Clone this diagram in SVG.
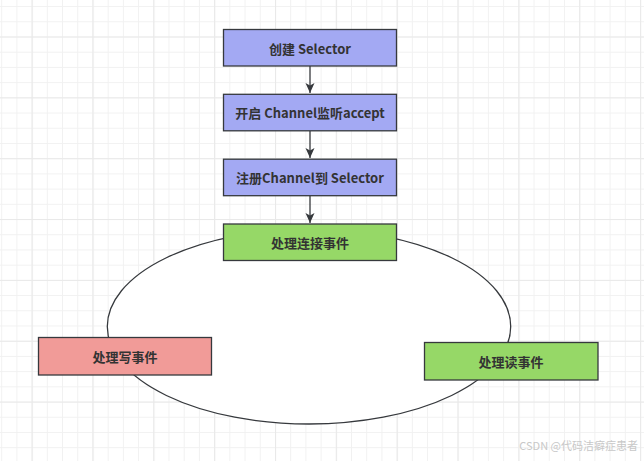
<svg xmlns="http://www.w3.org/2000/svg" width="644" height="461" viewBox="0 0 644 461">
<style>
.box{stroke:#36393d;stroke-width:1.3}
.blue{fill:#a3a9f3}
.green{fill:#96d867}
.red{fill:#f19b98}
.lbl{font-family:"Noto Sans CJK SC","Noto Sans",sans-serif;font-size:13px;font-weight:bold;fill:#333;text-anchor:middle;dominant-baseline:central}
.conn{stroke:#36393d;stroke-width:1.3;fill:none}
</style>
<defs>
<pattern id="minor" width="15.21" height="15.21" patternUnits="userSpaceOnUse" x="1.2" y="6.1">
<path d="M0.5 0V15.21M0 0.5H15.21" stroke="#f1f1f1" stroke-width="1" fill="none"/>
</pattern>
<pattern id="major" width="60.85" height="60.85" patternUnits="userSpaceOnUse" x="31.6" y="36.5">
<path d="M0.5 0V60.85M0 0.5H60.85" stroke="#e9e9e9" stroke-width="1.2" fill="none"/>
</pattern>
<marker id="arr" viewBox="0 0 10 10" refX="10" refY="5" markerWidth="11" markerHeight="10" markerUnits="userSpaceOnUse" orient="auto">
<path d="M0 0.5L10 5L0 9.5L2.5 5Z" fill="#36393d"/>
</marker>
</defs>
<rect width="644" height="461" fill="#ffffff"/>
<rect width="644" height="461" fill="url(#minor)"/>
<rect width="644" height="461" fill="url(#major)"/>
<g id="loop">
<ellipse cx="309" cy="326.6" rx="201.7" ry="97.4" fill="#ffffff" stroke="#36393d" stroke-width="1.3"/>
</g>
<g id="connectors">
<path class="conn" d="M310 66V93" marker-end="url(#arr)"/>
<path class="conn" d="M310 131V158" marker-end="url(#arr)"/>
<path class="conn" d="M310 196V223" marker-end="url(#arr)"/>
</g>
<g id="n1"><rect class="box blue" x="223.5" y="29.5" width="173" height="36.5"/><text class="lbl" x="310" y="48">创建 Selector</text></g>
<g id="n2"><rect class="box blue" x="223.5" y="94.3" width="173" height="36.5"/><text class="lbl" x="310" y="112.5">开启 Channel监听accept</text></g>
<g id="n3"><rect class="box blue" x="223.5" y="159.2" width="173" height="36.5"/><text class="lbl" x="310" y="177.5">注册Channel到 Selector</text></g>
<g id="n4"><rect class="box green" x="223.5" y="224" width="173" height="36.5"/><text class="lbl" x="310" y="242.3">处理连接事件</text></g>
<g id="n5"><rect class="box red" x="38.5" y="337.5" width="173" height="37.5"/><text class="lbl" x="125" y="356.2">处理写事件</text></g>
<g id="n6"><rect class="box green" x="424.5" y="342.5" width="173.5" height="37.5"/><text class="lbl" x="511" y="361.2">处理读事件</text></g>
<text x="638" y="450" font-family="'Noto Sans CJK SC','Noto Sans',sans-serif" font-size="11" fill="#c8c8c8" text-anchor="end">CSDN @代码洁癖症患者</text>
</svg>
